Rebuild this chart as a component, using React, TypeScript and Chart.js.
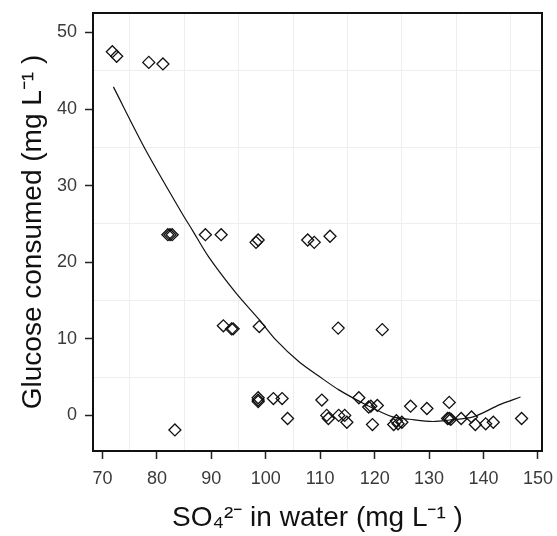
import { useEffect, useRef } from 'react';
import { Chart, registerables } from 'chart.js';

Chart.register(...registerables);

const xTitle = 'SO₄²⁻ in water (mg L⁻¹ )';
const yTitle = 'Glucose consumed (mg L⁻¹ )';

const sulfate = [
  71.8, 72.6, 78.5, 81.1, 82.0, 82.4, 82.8, 88.9, 91.8, 98.2, 98.6, 107.7, 108.9, 111.8,
  92.2, 93.7, 94.0, 98.8, 113.3, 121.4, 98.6, 98.6, 98.6, 101.4, 103.0, 104.0, 83.3,
  110.3, 111.2, 111.5, 113.4, 114.5, 114.9, 117.1, 118.9, 119.3, 120.5, 119.6, 123.5,
  124.0, 124.3, 125.0, 126.6, 129.6, 133.7, 133.4, 133.7, 134.0, 135.9, 137.8, 138.5,
  140.4, 141.8, 147.0,
];
const glucose = [
  47.5, 46.9, 46.1, 45.9, 23.6, 23.6, 23.6, 23.6, 23.6, 22.6, 22.9, 22.9, 22.6, 23.4,
  11.7, 11.3, 11.3, 11.6, 11.4, 11.2, 2.3, 1.8, 2.0, 2.2, 2.2, -0.4, -1.9,
  2.0, 0.0, -0.4, 0.0, 0.0, -0.9, 2.3, 1.1, 1.2, 1.3, -1.2, -1.2,
  -0.7, -1.1, -0.9, 1.2, 0.9, 1.7, -0.4, -0.4, -0.5, -0.4, -0.2, -1.2,
  -1.1, -0.9, -0.4,
];

const fitSulfate = [72.0, 77.9, 84.6, 86.5, 89.5, 94.5, 98.8, 101.8, 106.1, 109.8, 113.5, 118.4, 123.3, 126.4, 130.7, 133.8, 138.1, 143.0, 146.8];
const fitGlucose = [42.9, 34.7, 26.4, 24.2, 20.7, 16.0, 12.5, 9.9, 7.0, 5.1, 3.3, 1.4, -0.2, -0.5, -0.8, -0.6, -0.2, 1.4, 2.4];

const xMin = 68.25;
const xMax = 150.75;
const yMin = -4.65;
const yMax = 52.55;
const majorStep = 10;
const minorStep = 5;

const FONT = "'Liberation Sans', Arial, sans-serif";
const CLEAR = 'rgba(0,0,0,0)';

const framePlugin = {
  id: 'panelFrame',
  afterDraw(chart: any) {
    const { ctx, chartArea: a } = chart;
    ctx.save();
    ctx.strokeStyle = '#111';
    ctx.lineWidth = 2;
    ctx.strokeRect(a.left, a.top, a.right - a.left, a.bottom - a.top);
    ctx.restore();
  },
};

function isMajor(v: number) {
  return Math.abs(v % majorStep) < 1e-6;
}
function isMinor(v: number) {
  return Math.abs(Math.abs(v % majorStep) - minorStep) < 1e-6;
}

export default function App() {
  const ref = useRef<HTMLCanvasElement | null>(null);

  useEffect(() => {
    if (!ref.current) return;
    const points = sulfate.map((x, i) => ({ x, y: glucose[i] }));
    const fit = fitSulfate.map((x, i) => ({ x, y: fitGlucose[i] }));

    const gridCommon = {
      color: (c: any) => (c.tick && isMinor(c.tick.value) ? '#eeeeee' : CLEAR),
      lineWidth: 1,
      tickColor: (c: any) => (c.tick && isMajor(c.tick.value) ? '#222' : CLEAR),
      tickLength: 8,
      tickWidth: 1.5,
      drawTicks: true,
    };

    const chart = new Chart(ref.current, {
      type: 'scatter',
      data: {
        datasets: [
          {
            label: 'fit',
            data: fit,
            showLine: true,
            borderColor: '#111',
            borderWidth: 1.2,
            pointRadius: 0,
            tension: 0.3,
            fill: false,
          },
          {
            label: 'observed',
            data: points,
            showLine: false,
            pointStyle: 'rectRot',
            pointRadius: 6,
            borderColor: '#111',
            borderWidth: 1.3,
            backgroundColor: CLEAR,
          },
        ],
      },
      options: {
        responsive: false,
        animation: false,
        devicePixelRatio: 1,
        layout: { padding: { top: 13, right: 15, left: 0, bottom: 0 } },
        plugins: {
          legend: { display: false },
          tooltip: { enabled: false },
        },
        scales: {
          x: {
            type: 'linear',
            min: xMin,
            max: xMax,
            afterFit: (s: any) => {
              s.height = 85;
              s.paddingLeft = 0;
              s.paddingRight = 0;
            },
            border: { display: false },
            grid: gridCommon,
            ticks: {
              stepSize: minorStep,
              includeBounds: false,
              autoSkip: false,
              maxRotation: 0,
              padding: 9,
              color: '#3a3a3a',
              font: { family: FONT, size: 18 },
              callback: (v: any) => (isMajor(Number(v)) ? String(v) : ''),
            },
            title: {
              display: true,
              text: xTitle,
              color: '#111',
              font: { family: FONT, size: 28 },
              padding: { top: 0, bottom: 1 },
            },
          },
          y: {
            type: 'linear',
            min: yMin,
            max: yMax,
            afterFit: (s: any) => {
              s.width = 93;
              s.paddingTop = 0;
              s.paddingBottom = 0;
            },
            border: { display: false },
            grid: gridCommon,
            ticks: {
              stepSize: minorStep,
              includeBounds: false,
              autoSkip: false,
              padding: 8,
              color: '#3a3a3a',
              font: { family: FONT, size: 18 },
              callback: (v: any) => (isMajor(Number(v)) ? String(v) : ''),
            },
            title: {
              display: true,
              text: yTitle,
              color: '#111',
              font: { family: FONT, size: 28 },
              padding: { top: 16, bottom: 0 },
            },
          },
        },
      },
      plugins: [framePlugin],
    } as any);

    return () => chart.destroy();
  }, []);

  return (
    <div style={{ position: 'absolute', left: 0, top: 0, width: 557, height: 536 }}>
      <canvas ref={ref} width={557} height={536} style={{ display: 'block' }} />
    </div>
  );
}
